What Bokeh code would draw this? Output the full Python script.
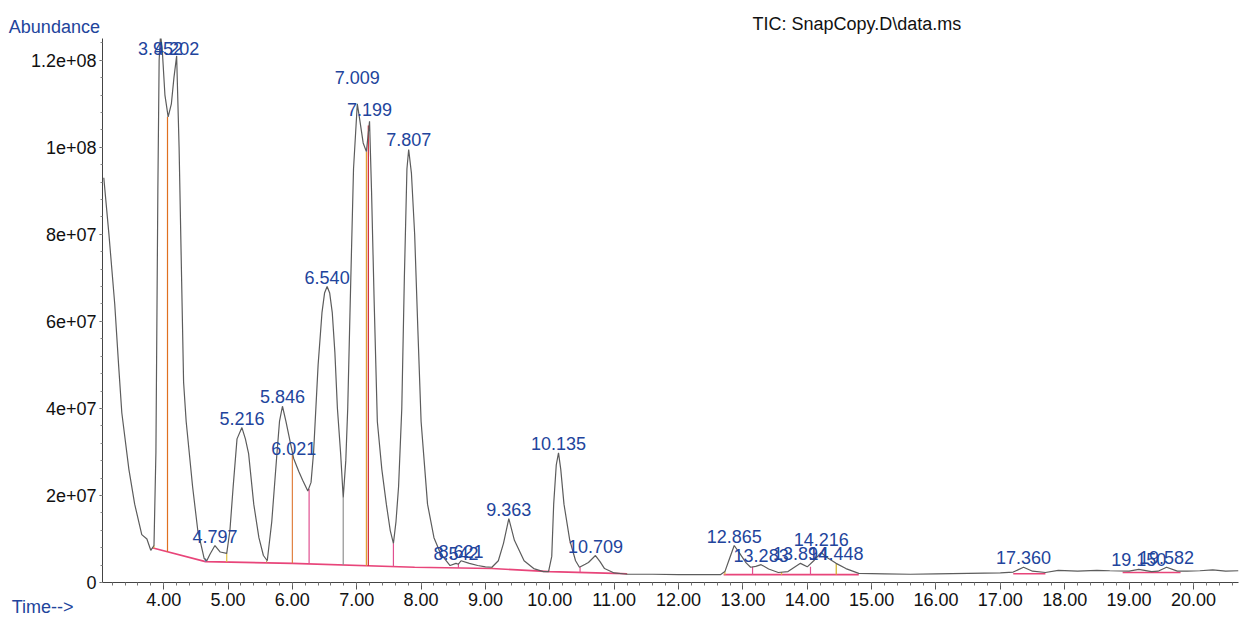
import numpy as np
from bokeh.plotting import figure
from bokeh.models import (Range1d, LabelSet, FixedTicker, ColumnDataSource, LinearAxis,
                          CustomJSTickFormatter)
from bokeh.embed import file_html
from bokeh.resources import INLINE
from bokeh.core.properties import value

# ---------------- data (abundance in units of 1e6 counts) ----------------
trace_time = [3.07, 3.15, 3.24, 3.30, 3.35, 3.46, 3.55, 3.66, 3.74, 3.80, 3.85, 3.88, 3.91, 3.93,
              3.952, 3.98, 4.02, 4.07, 4.12, 4.16, 4.202, 4.24, 4.28, 4.31, 4.35, 4.45, 4.53,
              4.63, 4.67, 4.72, 4.797, 4.88, 4.98, 5.03, 5.08, 5.14, 5.216, 5.27, 5.32, 5.40,
              5.48, 5.55, 5.61, 5.68, 5.76, 5.80, 5.846, 5.90, 5.97, 6.02, 6.10, 6.16, 6.24,
              6.29, 6.33, 6.40, 6.46, 6.50, 6.54, 6.58, 6.62, 6.66, 6.70, 6.75, 6.79, 6.83,
              6.86, 6.90, 6.95, 7.009, 7.05, 7.10, 7.15, 7.199, 7.23, 7.27, 7.32, 7.39, 7.46,
              7.52, 7.57, 7.61, 7.65, 7.70, 7.74, 7.78, 7.807, 7.85, 7.90, 7.95, 8.00, 8.10,
              8.20, 8.30, 8.45, 8.542, 8.58, 8.621, 8.75, 8.88, 9.00, 9.10, 9.20, 9.28, 9.363,
              9.45, 9.60, 9.75, 9.90, 9.98, 10.03, 10.06, 10.10, 10.135, 10.17, 10.22, 10.31,
              10.40, 10.46, 10.55, 10.60, 10.709, 10.78, 10.85, 11.00, 11.2, 11.6, 12.0, 12.4,
              12.65, 12.72, 12.78, 12.865, 12.95, 13.05, 13.12, 13.20, 13.283, 13.40, 13.55,
              13.70, 13.80, 13.894, 14.00, 14.10, 14.216, 14.30, 14.448, 14.60, 14.80, 15.2,
              15.6, 16.0, 16.5, 17.0, 17.2, 17.36, 17.5, 17.7, 17.9, 18.2, 18.5, 18.7, 19.0,
              19.15, 19.35, 19.45, 19.582, 19.75, 19.9, 20.1, 20.3, 20.5, 20.7]
trace_abund = [93, 80, 64, 50, 39, 26, 18, 11, 10, 7.4, 8.5, 30, 90, 120,
               126, 122, 112, 107, 110, 116, 121, 100, 69, 46, 37, 22, 12,
               5.5, 5.0, 6.5, 8.5, 7.0, 6.7, 12, 22, 33, 35.6, 33, 29.6, 18,
               10.3, 6.2, 5.0, 14, 29.6, 37, 40.5, 37, 32, 28.5, 25.5, 23.5, 21,
               23, 30, 50, 62, 66.5, 68, 66.5, 62, 53, 40, 29.6, 19.5, 28,
               40, 65, 95, 110, 106, 101, 99, 106, 90, 65, 37, 26, 18,
               12, 9, 14, 22, 40, 70, 95, 99.5, 94, 80, 58, 37, 18,
               10.3, 6.7, 3.9, 4.4, 4.2, 5.0, 4.4, 3.9, 3.6, 3.5, 5.0, 9.0, 14.7,
               9.7, 5.0, 3.2, 2.5, 2.5, 6, 18, 27, 29.8, 26, 18, 9.7,
               5.0, 3.5, 4.2, 4.6, 6.2, 4.8, 3.2, 2.2, 1.9, 1.9, 1.8, 1.8,
               1.8, 2.5, 5.0, 8.5, 6.7, 4.5, 3.5, 3.7, 4.1, 3.1, 2.3,
               2.5, 3.5, 4.4, 3.6, 5.0, 6.9, 5.8, 4.4, 3.2, 2.1, 2.0,
               1.9, 2.0, 2.1, 2.2, 2.4, 3.5, 2.6, 2.3, 2.8, 2.6, 2.8, 2.7, 2.6,
               3.0, 2.5, 2.6, 3.5, 2.6, 2.6, 2.7, 2.9, 2.6, 2.7]

peak_rt = [3.952, 4.202, 4.797, 5.216, 5.846, 6.021, 6.540, 7.009, 7.199, 7.807, 8.542, 8.621,
           9.363, 10.135, 10.709, 12.865, 13.283, 13.894, 14.216, 14.448, 17.360, 19.150, 19.582]
peak_apex = [126, 121, 8.5, 35.6, 40.5, 28.5, 68, 110, 106, 99.5, 4.4, 5.0,
             14.7, 29.8, 6.2, 8.5, 4.1, 4.4, 6.9, 4.4, 3.5, 3.0, 3.5]
peak_label = ["%.3f" % t for t in peak_rt]

# integration baseline segments (time, abundance)
base_time_1 = [3.82, 4.65, 6.0, 7.9, 9.1, 10.0, 11.0, 11.2]
base_abund_1 = [8.0, 4.8, 4.4, 3.5, 3.2, 2.5, 2.1, 2.0]
base_time_2 = [12.7, 13.5, 14.8]
base_abund_2 = [1.8, 1.8, 1.8]
base_time_3 = [17.2, 17.7]
base_abund_3 = [2.0, 2.0]
base_time_4 = [18.9, 19.8]
base_abund_4 = [2.3, 2.3]

# peak start / end markers (time, top abundance)
marker_time = [3.85, 4.06, 4.65, 4.98, 5.60, 6.00, 6.26, 6.79, 7.15, 7.18, 7.57,
               8.58, 9.10, 9.98, 10.47, 11.2, 12.72, 13.15, 13.60, 14.05, 14.45]
marker_top = [8.5, 107, 5.5, 6.7, 5.0, 29.6, 21.5, 19.5, 99, 105, 9.0,
              4.3, 3.5, 2.5, 3.5, 1.9, 2.5, 3.6, 2.4, 3.6, 4.4]
marker_color = ["#e0c040", "#e07020", "#4090d0", "#e0c040", "#c0a060", "#e08040", "#e05090",
                "#909090", "#e0a030", "#d02030", "#e05090",
                "#e05090", "#c09040", "#40a0d0", "#e05090", "#c09040", "#e0c040", "#e05090",
                "#e0c040", "#e05090", "#d0b020"]

y_ticks = [0, 2e7, 4e7, 6e7, 8e7, 1e8, 1.2e8]
y_tick_text = ["0", "2e+07", "4e+07", "6e+07", "8e+07", "1e+08", "1.2e+08"]
x_ticks = list(range(4, 21))

# ---------------- figure ----------------
E6 = 1e6
X0, X1 = 3.05, 20.70
Y1 = 125e6
FL, FR, FT, FB = 102, 3, 38, 35
W, H = 1241, 617

FONT = "Liberation Sans"
BLUE = "#22449c"

p = figure(width=W, height=H, output_backend="svg", toolbar_location=None,
           x_range=Range1d(X0, X1), y_range=Range1d(0, Y1),
           min_border_left=FL, min_border_right=FR, min_border_top=FT, min_border_bottom=FB)
p.outline_line_color = None
p.grid.visible = False
p.background_fill_color = "white"
p.border_fill_color = "white"

# title (TIC) placed in the top border
p.title.text = "TIC: SnapCopy.D\\data.ms"
p.title.align = "left"
p.title.offset = 650
p.title.standoff = 10
p.title.text_font = FONT
p.title.text_font_size = "18px"
p.title.text_font_style = "normal"
p.title.text_color = "#111111"

# axes
xa = p.xaxis[0]
xa.ticker = FixedTicker(ticks=x_ticks,
                        minor_ticks=[round(4 + 0.2 * i, 1) for i in range(-5, 84)])
xa.formatter = CustomJSTickFormatter(code="return tick.toFixed(2);")
xa.axis_line_color = "#444444"
xa.major_tick_line_color = "#555555"
xa.minor_tick_line_color = "#777777"
xa.major_tick_out = 7
xa.major_tick_in = 0
xa.minor_tick_out = 3
xa.minor_tick_in = 0
xa.major_label_standoff = 3
xa.major_label_text_font = FONT
xa.major_label_text_font_size = "18px"
xa.major_label_text_color = "#111111"

ya = p.yaxis[0]
ya.ticker = FixedTicker(ticks=y_ticks, minor_ticks=[i * 4e6 for i in range(0, 32)])
ya.major_label_overrides = {int(v): t for v, t in zip(y_ticks, y_tick_text)}
ya.axis_line_color = "#444444"
ya.major_tick_line_color = "#555555"
ya.minor_tick_line_color = "#888888"
ya.major_tick_out = 3
ya.major_tick_in = 0
ya.minor_tick_out = 2
ya.minor_tick_in = 0
ya.major_label_standoff = 3
ya.major_label_text_font = FONT
ya.major_label_text_font_size = "18px"
ya.major_label_text_color = "#111111"
# "Abundance" as the horizontal axis label at the top end of the y axis
# (a trailing empty line lifts it above the frame's top edge)
ya.axis_label = "Abundance\n"
ya.axis_label_text_font = FONT
ya.axis_label_text_font_size = "18px"
ya.axis_label_text_font_style = "normal"
ya.axis_label_text_color = BLUE
ya.axis_label_orientation = "horizontal"
ya.axis_label_align = "end"
ya.axis_label_standoff = -72

# "Time-->" as an extra, tick-less left axis label at the bottom end
# (two leading empty lines drop it below the frame's bottom edge)
ta = LinearAxis(ticker=FixedTicker(ticks=[]), axis_line_color=None,
                major_tick_line_color=None, minor_tick_line_color=None,
                major_label_text_font_size="0px",
                axis_label="\n\nTime-->", axis_label_text_font=FONT,
                axis_label_text_font_size="18px", axis_label_text_font_style="normal",
                axis_label_text_color=BLUE)
ta.axis_label_orientation = "horizontal"
ta.axis_label_align = "start"
ta.axis_label_standoff = -68
p.add_layout(ta, "left")

# baseline segments
p.multi_line(xs=[base_time_1, base_time_2, base_time_3, base_time_4],
             ys=[[a * E6 for a in base_abund_1], [a * E6 for a in base_abund_2],
                 [a * E6 for a in base_abund_3], [a * E6 for a in base_abund_4]],
             line_color="#e8457a", line_width=1.6)

# markers from baseline up to the trace
all_bt = base_time_1 + base_time_2 + base_time_3 + base_time_4
all_ba = base_abund_1 + base_abund_2 + base_abund_3 + base_abund_4
order = np.argsort(all_bt)
mb = np.interp(marker_time, np.array(all_bt)[order], np.array(all_ba)[order])
p.segment(x0=marker_time, y0=[b * E6 for b in mb], x1=marker_time,
          y1=[t * E6 for t in marker_top], line_color=marker_color, line_width=1.2)

# TIC trace
p.line(trace_time, [a * E6 for a in trace_abund], line_color="#5c5c5c", line_width=1.2)

# peak labels
lift = [3] * len(peak_rt)
lift[peak_rt.index(7.009)] = 20
lift[peak_rt.index(7.199)] = 5
lift[peak_rt.index(14.216)] = 6
label_y = [min(a, 120.5) * E6 for a in peak_apex]
src = ColumnDataSource(dict(x=peak_rt, y=label_y, text=peak_label, off=lift))
p.add_layout(LabelSet(x="x", y="y", text="text", y_offset="off", source=src,
                      text_align="center", text_baseline="alphabetic",
                      text_font=value(FONT), text_font_size="18px", text_color=BLUE))

open("out.html", "w").write(file_html(p, INLINE))
